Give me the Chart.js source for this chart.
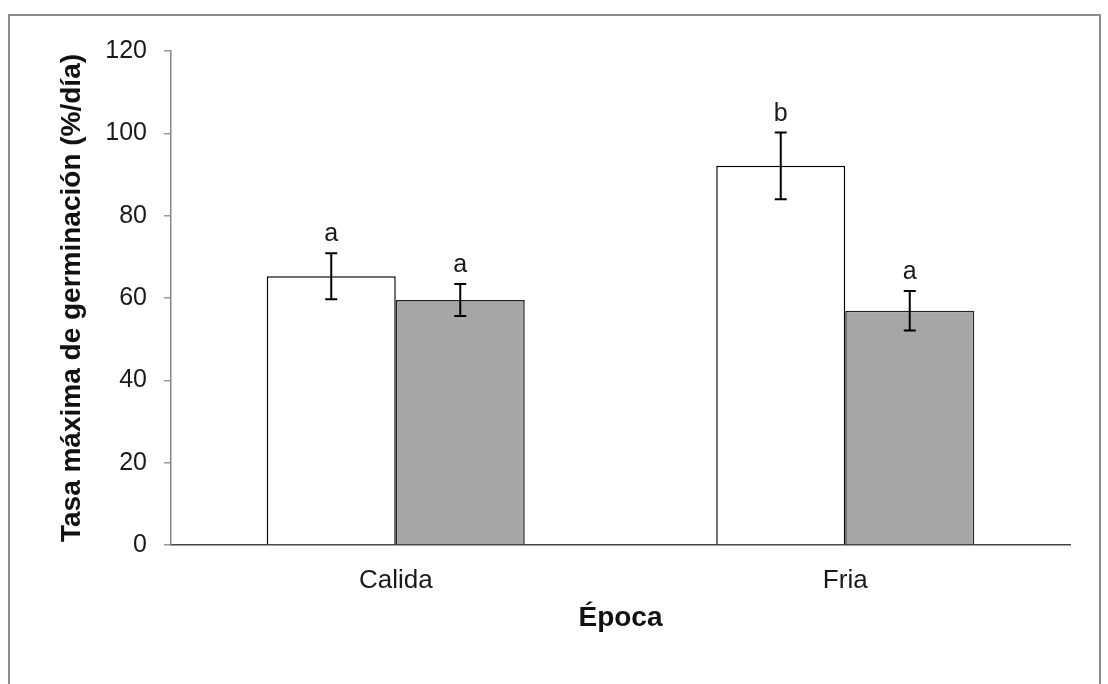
<!DOCTYPE html>
<html><head><meta charset="utf-8">
<script src="https://cdn.jsdelivr.net/npm/chart.js@4"></script>
<style>html,body{margin:0;padding:0;background:#fff;}#wrap{position:relative;width:1108px;height:684px;}canvas{display:block;}</style>
</head><body><div id="wrap"><canvas id="c" width="1108" height="684" style="width:1108px;height:684px"></canvas></div>
<script>
const categories = ['Calida', 'Fria'];
const seriesWhite = [65.3, 92.1];
const seriesGray = [59.5, 56.9];
const errWhite = [5.6, 8.1];
const errGray = [3.9, 4.8];
const lettersWhite = ['a', 'b'];
const lettersGray = ['a', 'a'];
const yTicks = [0, 20, 40, 60, 80, 100, 120];
const yTitle = 'Tasa máxima de germinación (%/día)';
const xTitle = 'Época';

const FONT = "'Liberation Sans', Arial, Helvetica, sans-serif";

const framePlugin = {
  id: 'frame',
  beforeDraw(chart) {
    const ctx = chart.ctx;
    ctx.save();
    ctx.fillStyle = '#fff';
    ctx.fillRect(0, 0, chart.width, chart.height);
    ctx.strokeStyle = '#8c8c8c';
    ctx.lineWidth = 2;
    ctx.beginPath();
    ctx.moveTo(9, chart.height);
    ctx.lineTo(9, 15);
    ctx.lineTo(1100, 15);
    ctx.lineTo(1100, chart.height);
    ctx.stroke();
    ctx.restore();
  }
};

const errorPlugin = {
  id: 'errbars',
  afterDatasetsDraw(chart) {
    const ctx = chart.ctx;
    const ys = chart.scales.y;
    ctx.save();
    chart.data.datasets.forEach((ds, di) => {
      const meta = chart.getDatasetMeta(di);
      meta.data.forEach((el, i) => {
        const v = ds.data[i], e = ds.errors[i];
        const yt = ys.getPixelForValue(v + e);
        const yb = ys.getPixelForValue(v - e);
        const x = el.x;
        ctx.strokeStyle = '#000';
        ctx.lineWidth = 2;
        ctx.beginPath();
        ctx.moveTo(x, yt); ctx.lineTo(x, yb);
        ctx.moveTo(x - 6, yt); ctx.lineTo(x + 6, yt);
        ctx.moveTo(x - 6, yb); ctx.lineTo(x + 6, yb);
        ctx.stroke();
        ctx.fillStyle = '#1a1a1a';
        ctx.font = '25px ' + FONT;
        ctx.textAlign = 'center';
        ctx.textBaseline = 'alphabetic';
        ctx.fillText(ds.letters[i], x, yt - 12);
      });
    });
    ctx.restore();
  }
};

new Chart(document.getElementById('c'), {
  type: 'bar',
  data: {
    labels: categories,
    datasets: [
      { data: seriesWhite, errors: errWhite, letters: lettersWhite, backgroundColor: '#ffffff', borderColor: '#000', borderWidth: 1.5 },
      { data: seriesGray, errors: errGray, letters: lettersGray, backgroundColor: '#a6a6a6', borderColor: '#222', borderWidth: 1.5 }
    ]
  },
  options: {
    responsive: false,
    animation: false,
    layout: { padding: { left: 0, right: 38, top: 51, bottom: 0 } },
    plugins: { legend: { display: false }, tooltip: { enabled: false } },
    datasets: { bar: { categoryPercentage: 0.574, barPercentage: 1.0 } },
    scales: {
      x: {
        grid: { display: false, drawTicks: false },
        border: { display: true, color: '#444', width: 1.5 },
        ticks: { color: '#1a1a1a', font: { family: FONT, size: 26 }, padding: 20 },
        title: { display: true, text: xTitle, color: '#111', font: { family: FONT, size: 28, weight: 'bold' }, padding: { top: 0, bottom: 49 } },
        afterFit(s) { s.height = 684 - 545; }
      },
      y: {
        min: 0, max: 120,
        afterBuildTicks(s) { s.ticks = yTicks.map(v => ({ value: v })); },
        grid: { drawOnChartArea: false, drawTicks: true, tickLength: 7, color: '#999', lineWidth: 1.5 },
        border: { display: true, color: '#888', width: 1.5 },
        ticks: { color: '#1a1a1a', font: { family: FONT, size: 25 }, padding: 17 },
        title: { display: true, text: yTitle, color: '#111', font: { family: FONT, size: 28, weight: 'bold' }, padding: { top: 55, bottom: 0 } },
        afterFit(s) { s.width = 171; }
      }
    }
  },
  plugins: [framePlugin, errorPlugin]
});
</script>
</body></html>
